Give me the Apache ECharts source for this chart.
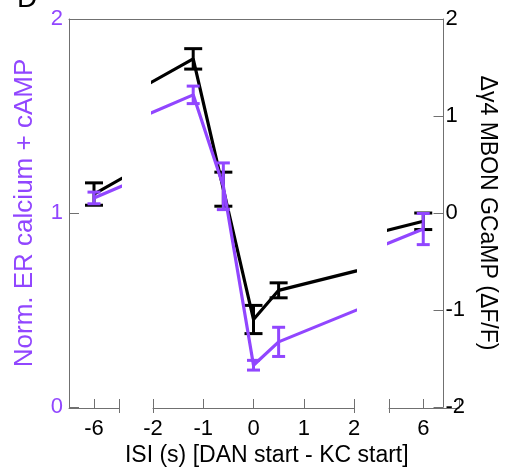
<!DOCTYPE html>
<html>
<head>
<meta charset="utf-8">
<script src="https://cdn.jsdelivr.net/npm/echarts@6/dist/echarts.min.js"></script>
<style>
html,body{margin:0;padding:0;background:#fff;}
#chart{width:507px;height:472px;}
</style>
</head>
<body>
<div id="chart"></div>
<script>
// ---- data ----
const isiValues = [-6, -1.2, -0.6, 0, 0.5, 6];
const erCalciumMean = [1.08, 1.61, 1.14, 0.22, 0.34, 0.92];
const erCalciumSem  = [0.03, 0.045, 0.12, 0.025, 0.075, 0.08];
const mbonMean = [0.20, 1.59, 0.25, -1.09, -0.79, -0.08];
const mbonSem  = [0.115, 0.105, 0.175, 0.145, 0.077, 0.085];
const leftTicks = [0, 1, 2];
const rightTicks = [-2, -1, 0, 1, 2];
const segmentTickLabels = [[-6], [-2, -1, 0, 1, 2], [6]];
const segmentRanges = [[-6.5, -5.5], [-2, 2], [5.32, 6.71]];

const PURPLE = '#9146ff';
const AXIS = '#707070';
const FONT = 'Liberation Sans, Arial, sans-serif';

const TOP = 19, BOTTOM = 472 - 408;
const segPix = [[69, 119], [153, 354], [389, 459]];

const grids = [{left: 69, right: 507 - 459, top: TOP, bottom: BOTTOM}];
segPix.forEach(p => grids.push({left: p[0], right: 507 - p[1], top: TOP, bottom: BOTTOM}));

const xAxes = [
  {gridIndex: 0, type: 'value', position: 'top', min: 0, max: 1,
   axisLine: {show: true, onZero: false, lineStyle: {color: AXIS, width: 1}},
   axisTick: {show: false}, axisLabel: {show: false}, splitLine: {show: false}},
  {gridIndex: 0, type: 'value', position: 'bottom', min: 0, max: 1,
   axisLine: {show: false, onZero: false}, axisTick: {show: false}, axisLabel: {show: false}, splitLine: {show: false},
   name: 'ISI (s) [DAN start - KC start]', nameLocation: 'middle', nameGap: 37,
   nameTextStyle: {fontFamily: FONT, fontSize: 23, color: '#000', padding: [0, 0, 0, 21]}}
];
const yAxes = [
  {gridIndex: 0, type: 'value', position: 'left', min: 0, max: 2, interval: 1,
   axisLine: {show: true, onZero: false, lineStyle: {color: AXIS}},
   axisTick: {show: true, inside: true, length: 10, lineStyle: {color: AXIS}},
   axisLabel: {fontFamily: FONT, fontSize: 22, color: PURPLE, margin: 6},
   splitLine: {show: false},
   name: 'Norm. ER calcium + cAMP', nameLocation: 'middle', nameGap: 31,
   nameTextStyle: {fontFamily: FONT, fontSize: 26, color: PURPLE}},
  {gridIndex: 0, type: 'value', position: 'right', min: -2, max: 2, interval: 1,
   axisLine: {show: true, onZero: false, lineStyle: {color: AXIS}},
   axisTick: {show: true, inside: true, length: 10, lineStyle: {color: AXIS}},
   axisLabel: {fontFamily: FONT, fontSize: 22, color: '#000', margin: 2},
   splitLine: {show: false},
   name: 'Δγ4 MBON GCaMP (ΔF/F)', nameLocation: 'middle', nameGap: 20, nameRotate: -90,
   nameTextStyle: {fontFamily: FONT, fontSize: 23, color: '#000'}}
];

const series = [];

function errRender(color, capW) {
  return function (params, api) {
    const x = api.value(0), m = api.value(1), e = api.value(2);
    const t = api.coord([x, m + e]);
    const b = api.coord([x, m - e]);
    const st = {stroke: color, lineWidth: 3};
    return {type: 'group', children: [
      {type: 'line', shape: {x1: t[0], y1: t[1], x2: b[0], y2: b[1]}, style: st},
      {type: 'line', shape: {x1: t[0] - capW / 2, y1: t[1], x2: t[0] + capW / 2, y2: t[1]}, style: st},
      {type: 'line', shape: {x1: b[0] - capW / 2, y1: b[1], x2: b[0] + capW / 2, y2: b[1]}, style: st}
    ]};
  };
}

segmentRanges.forEach((r, k) => {
  const g = k + 1;
  const ticks = [r[0]].concat(segmentTickLabels[k]).concat([r[1]]);
  xAxes.push({gridIndex: g, type: 'value', position: 'bottom', min: r[0], max: r[1],
    axisLine: {show: true, onZero: false, lineStyle: {color: AXIS}},
    axisTick: {show: true, inside: true, length: 9, lineStyle: {color: AXIS}, customValues: ticks},
    axisLabel: {fontFamily: FONT, fontSize: 22, color: '#000', margin: 10, customValues: segmentTickLabels[k],
      formatter: v => String(v)},
    splitLine: {show: false}});
  const xEnd = xAxes.length - 1;
  xAxes.push({gridIndex: g, type: 'value', position: 'bottom', min: r[0], max: r[1],
    axisLine: {show: false, onZero: false},
    axisTick: {show: true, inside: false, length: 5, lineStyle: {color: AXIS},
      customValues: k === 0 ? [r[1]] : (k === 2 ? [r[0]] : [r[0], r[1]])},
    axisLabel: {show: false}, splitLine: {show: false}});
  yAxes.push({gridIndex: g, type: 'value', min: 0, max: 2, show: false, axisLine: {onZero: false}});
  const yL = yAxes.length - 1;
  yAxes.push({gridIndex: g, type: 'value', min: -2, max: 2, show: false, axisLine: {onZero: false}});
  const yR = yAxes.length - 1;

  series.push({type: 'line', xAxisIndex: xEnd, yAxisIndex: yR, clip: true, silent: true,
    showSymbol: false, symbol: 'none', animation: false,
    lineStyle: {color: '#000', width: 3.2}, z: 2,
    data: isiValues.map((x, i) => [x, mbonMean[i]])});
  series.push({type: 'custom', xAxisIndex: xEnd, yAxisIndex: yR, silent: true, animation: false, z: 3,
    renderItem: errRender('#000', 18),
    data: isiValues.map((x, i) => [x, mbonMean[i], mbonSem[i]]).filter(d => d[0] >= r[0] && d[0] <= r[1])});
  series.push({type: 'line', xAxisIndex: xEnd, yAxisIndex: yL, clip: true, silent: true,
    showSymbol: false, symbol: 'none', animation: false,
    lineStyle: {color: PURPLE, width: 3.2}, z: 4,
    data: isiValues.map((x, i) => [x, erCalciumMean[i]])});
  series.push({type: 'custom', xAxisIndex: xEnd, yAxisIndex: yL, silent: true, animation: false, z: 5,
    renderItem: errRender(PURPLE, 13),
    data: isiValues.map((x, i) => [x, erCalciumMean[i], erCalciumSem[i]]).filter(d => d[0] >= r[0] && d[0] <= r[1])});
});

const chart = echarts.init(document.getElementById('chart'), null, {renderer: 'canvas'});
chart.setOption({
  backgroundColor: '#fff',
  animation: false,
  title: {text: 'D', left: 12, top: -20, textStyle: {fontFamily: FONT, fontSize: 28, fontWeight: 'normal', color: '#000'}},
  grid: grids,
  xAxis: xAxes,
  yAxis: yAxes,
  series: series
});
</script>
</body>
</html>
